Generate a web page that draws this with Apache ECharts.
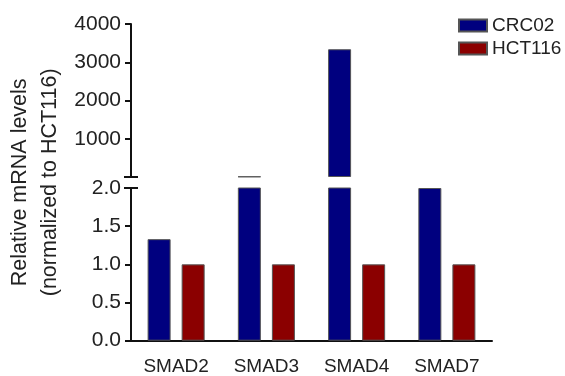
<!DOCTYPE html>
<html>
<head>
<meta charset="utf-8">
<script src="https://cdn.jsdelivr.net/npm/echarts@6/dist/echarts.min.js"></script>
<style>
  html, body { margin: 0; padding: 0; background: #fff; }
  #chart { width: 565px; height: 376px; }
</style>
</head>
<body>
<div id="chart"></div>
<script>
// Relative mRNA levels, normalized to HCT116
const categories = ['SMAD2', 'SMAD3', 'SMAD4', 'SMAD7'];
const crc02 = [1.33, 12, 3340, 2.0];
const hct116 = [1.0, 1.0, 1.0, 1.0];

// Broken y axis: lower segment 0–2, upper segment 0–4000
const lowerMax = 2;
const lowerTicks = ['0.0', '0.5', '1.0', '1.5', '2.0'];
const upperTicks = ['', '1000', '2000', '3000', '4000'];

const FONT = '"Liberation Sans", Arial, sans-serif';
const BLUE = '#00007f';
const RED = '#8b0000';
const TEXT = '#222';

const upperCrc = crc02.map(v => (v > lowerMax ? v : '-'));
const upperHct = hct116.map(v => (v > lowerMax ? v : '-'));

const barCommon = {
  type: 'bar',
  barWidth: 23,
  barGap: '48%',
  itemStyle: { borderColor: '#555', borderWidth: 1 }
};

const axisLineStyle = { color: '#111', width: 2 };

const chart = echarts.init(document.getElementById('chart'), null, { renderer: 'canvas' });

const option = {
  animation: false,
  backgroundColor: '#fff',
  textStyle: { fontFamily: FONT },
  legend: {
    orient: 'vertical',
    left: 453,
    top: 10,
    itemWidth: 28,
    itemHeight: 12,
    itemGap: 2,
    icon: 'rect',
    data: ['CRC02', 'HCT116'],
    textStyle: { fontFamily: FONT, fontSize: 19, color: TEXT, lineHeight: 21, padding: [0, 0, 0, 0] }
  },
  grid: [
    { left: 131, top: 24, width: 361, height: 153, outerBoundsMode: 'none', containLabel: false },
    { left: 131, top: 188, width: 361, height: 152.7, outerBoundsMode: 'none', containLabel: false }
  ],
  xAxis: [
    {
      gridIndex: 0, type: 'category', data: categories, show: false
    },
    {
      gridIndex: 1, type: 'category', data: categories,
      axisLine: { lineStyle: axisLineStyle },
      axisTick: { alignWithLabel: true, length: 5, lineStyle: { color: '#111', width: 2 } },
      axisLabel: { fontFamily: FONT, fontSize: 19, color: TEXT, margin: 17 }
    }
  ],
  yAxis: [
    {
      gridIndex: 0, type: 'value', min: 0, max: 4000, interval: 1000,
      splitLine: { show: false },
      axisLine: { show: true, lineStyle: axisLineStyle },
      axisTick: { show: true, length: 6, lineStyle: { color: '#111', width: 2 } },
      axisLabel: {
        fontFamily: FONT, fontSize: 21, color: TEXT, margin: 10,
        formatter: (v) => upperTicks[Math.round(v / 1000)]
      }
    },
    {
      gridIndex: 1, type: 'value', min: 0, max: lowerMax, interval: 0.5,
      splitLine: { show: false },
      axisLine: { show: true, lineStyle: axisLineStyle },
      axisTick: { show: true, length: 6, lineStyle: { color: '#111', width: 2 } },
      axisLabel: {
        fontFamily: FONT, fontSize: 21, color: TEXT, margin: 10,
        formatter: (v) => lowerTicks[Math.round(v / 0.5)]
      }
    }
  ],
  series: [
    Object.assign({}, barCommon, { name: 'CRC02', xAxisIndex: 0, yAxisIndex: 0, data: upperCrc, itemStyle: Object.assign({}, barCommon.itemStyle, { color: BLUE }) }),
    Object.assign({}, barCommon, { name: 'HCT116', xAxisIndex: 0, yAxisIndex: 0, data: upperHct, itemStyle: Object.assign({}, barCommon.itemStyle, { color: RED }) }),
    Object.assign({}, barCommon, { name: 'CRC02', xAxisIndex: 1, yAxisIndex: 1, data: crc02, clip: true, itemStyle: Object.assign({}, barCommon.itemStyle, { color: BLUE }) }),
    Object.assign({}, barCommon, { name: 'HCT116', xAxisIndex: 1, yAxisIndex: 1, data: hct116, clip: true, itemStyle: Object.assign({}, barCommon.itemStyle, { color: RED }) })
  ]
};

chart.setOption(option);

// Break caps on the y axis and the two-line axis title
const lowerBottom = chart.convertToPixel({ yAxisIndex: 1 }, 0);
const upperBase = chart.convertToPixel({ yAxisIndex: 0 }, 0);
const lowerTop = chart.convertToPixel({ yAxisIndex: 1 }, lowerMax);
const upperTop = chart.convertToPixel({ yAxisIndex: 0 }, 4000);
const axisLeft = Math.round(chart.getModel().getComponent('grid', 0).coordinateSystem.getRect().x);
const capHalf = 7;

chart.setOption({
  graphic: [
    {
      type: 'line',
      shape: { x1: axisLeft - capHalf, y1: upperBase, x2: axisLeft + capHalf, y2: upperBase },
      style: { stroke: '#111', lineWidth: 2 }
    },
    {
      type: 'line',
      shape: { x1: axisLeft - capHalf, y1: lowerTop, x2: axisLeft + capHalf, y2: lowerTop },
      style: { stroke: '#111', lineWidth: 2 }
    },
    {
      type: 'text',
      x: 35,
      y: (upperTop + lowerBottom) / 2,
      rotation: Math.PI / 2,
      style: {
        text: 'Relative mRNA levels\n(normalized to HCT116)',
        fontFamily: FONT,
        fontSize: 21.5,
        lineHeight: 30,
        fill: TEXT,
        align: 'center',
        verticalAlign: 'middle'
      }
    }
  ]
});
</script>
</body>
</html>
